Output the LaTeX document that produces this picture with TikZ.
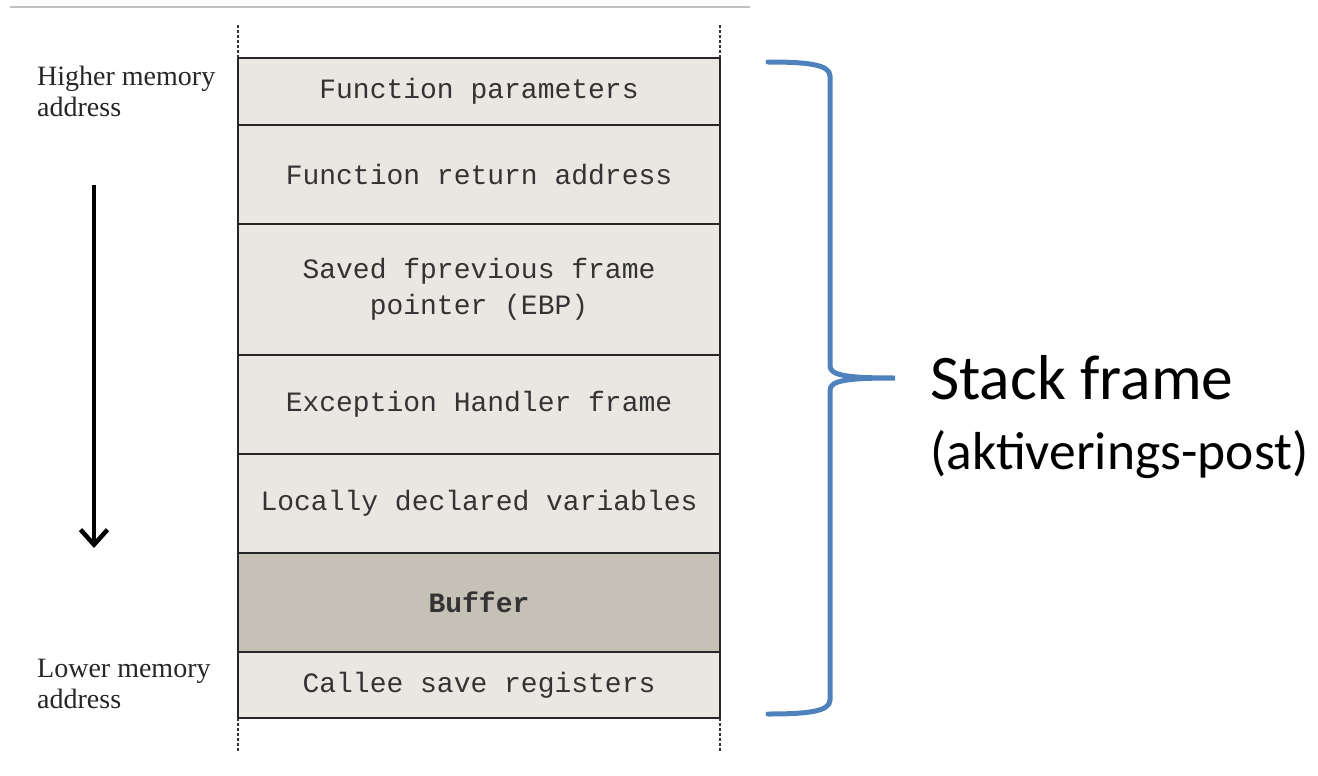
\documentclass[tikz,border=0pt]{standalone}
\usepackage{fontspec}
\setmainfont{Liberation Serif}
\newfontfamily\monofnt{Liberation Mono}
\newfontfamily\calfnt{Carlito}
\usetikzlibrary{arrows.meta}
\definecolor{cellfill}{HTML}{EAE7E3}
\definecolor{buffill}{HTML}{C5C1B6}
\definecolor{bracecol}{HTML}{4F81BD}
\definecolor{celltext}{HTML}{333333}
\tikzset{
  cell/.style={draw=black!85, line width=2pt, fill=cellfill, minimum width=482pt,
    inner sep=0pt, outer sep=0pt, align=center, text=celltext,
    font=\monofnt\fontsize{28}{36}\selectfont},
  sidelabel/.style={anchor=north west, align=left, inner sep=0pt,
    font=\fontsize{28}{31}\selectfont, text=black!85},
  dashedge/.style={line width=1.2pt, black!80, dash pattern=on 3pt off 2pt},
}
\begin{document}
\begin{tikzpicture}[x=1pt,y=-1pt]
\useasboundingbox (0,0) rectangle (1318,776);
% top gray rule
\draw[line width=2pt, black!25] (10,7) -- (750,7);
% stack rows
\node[cell, minimum height=67pt] (r1) at (479,91.5) {\raisebox{-2pt}{Function parameters}};
\node[cell, minimum height=99pt] (r2) at (479,174.5) {\raisebox{-2pt}{Function return address}};
\node[cell, minimum height=131pt] (r3) at (479,289.5) {Saved fprevious frame\\pointer (EBP)};
\node[cell, minimum height=99pt] (r4) at (479,404.5) {Exception Handler frame};
\node[cell, minimum height=99pt] (r5) at (479,503.5) {Locally declared variables};
\node[cell, minimum height=99pt, fill=buffill, font=\monofnt\bfseries\fontsize{28}{36}\selectfont] (r6) at (479,602.5) {Buffer};
\node[cell, minimum height=66pt] (r7) at (479,685) {\raisebox{-1pt}{Callee save registers}};
% dashed continuation edges
\coordinate (tl) at (238,25);
\coordinate (tr) at (720,25);
\coordinate (bl) at (238,752);
\coordinate (br) at (720,752);
\draw[dashedge] (r1.north west) -- (tl);
\draw[dashedge] (r1.north east) -- (tr);
\draw[dashedge] (r7.south west) -- (bl);
\draw[dashedge] (r7.south east) -- (br);
% side labels
\node[sidelabel] (hi) at (37,66) {Higher memory\\address};
\node[sidelabel] (lo) at (37,659) {Lower memory\\address};
% direction arrow
\coordinate (a1) at (94,185);
\coordinate (a2) at (94,548);
\draw[line width=4.5pt, -{Straight Barb[length=15pt,width=27pt,line width=4.5pt]}] (a1) -- (a2);
% brace
\draw[bracecol, line width=5pt, line cap=round]
  (768,62) .. controls (805,62) and (830,64) .. (830,76)
  -- (830,366) .. controls (830,376) and (850,378) .. (895,378)
  .. controls (850,378) and (830,380) .. (830,390)
  -- (830,700) .. controls (830,712) and (805,714) .. (768,714);
\coordinate (tip) at (895,378);
% label
\node[anchor=west, inner sep=0pt, font=\calfnt\fontsize{63.5}{63.5}\selectfont] (sf) at (930,378) {Stack frame};
\node[anchor=north west, inner sep=0pt, font=\calfnt\fontsize{53.5}{53.5}\selectfont] (ap) at (930,430) {(aktiverings-post)};
\end{tikzpicture}
\end{document}
